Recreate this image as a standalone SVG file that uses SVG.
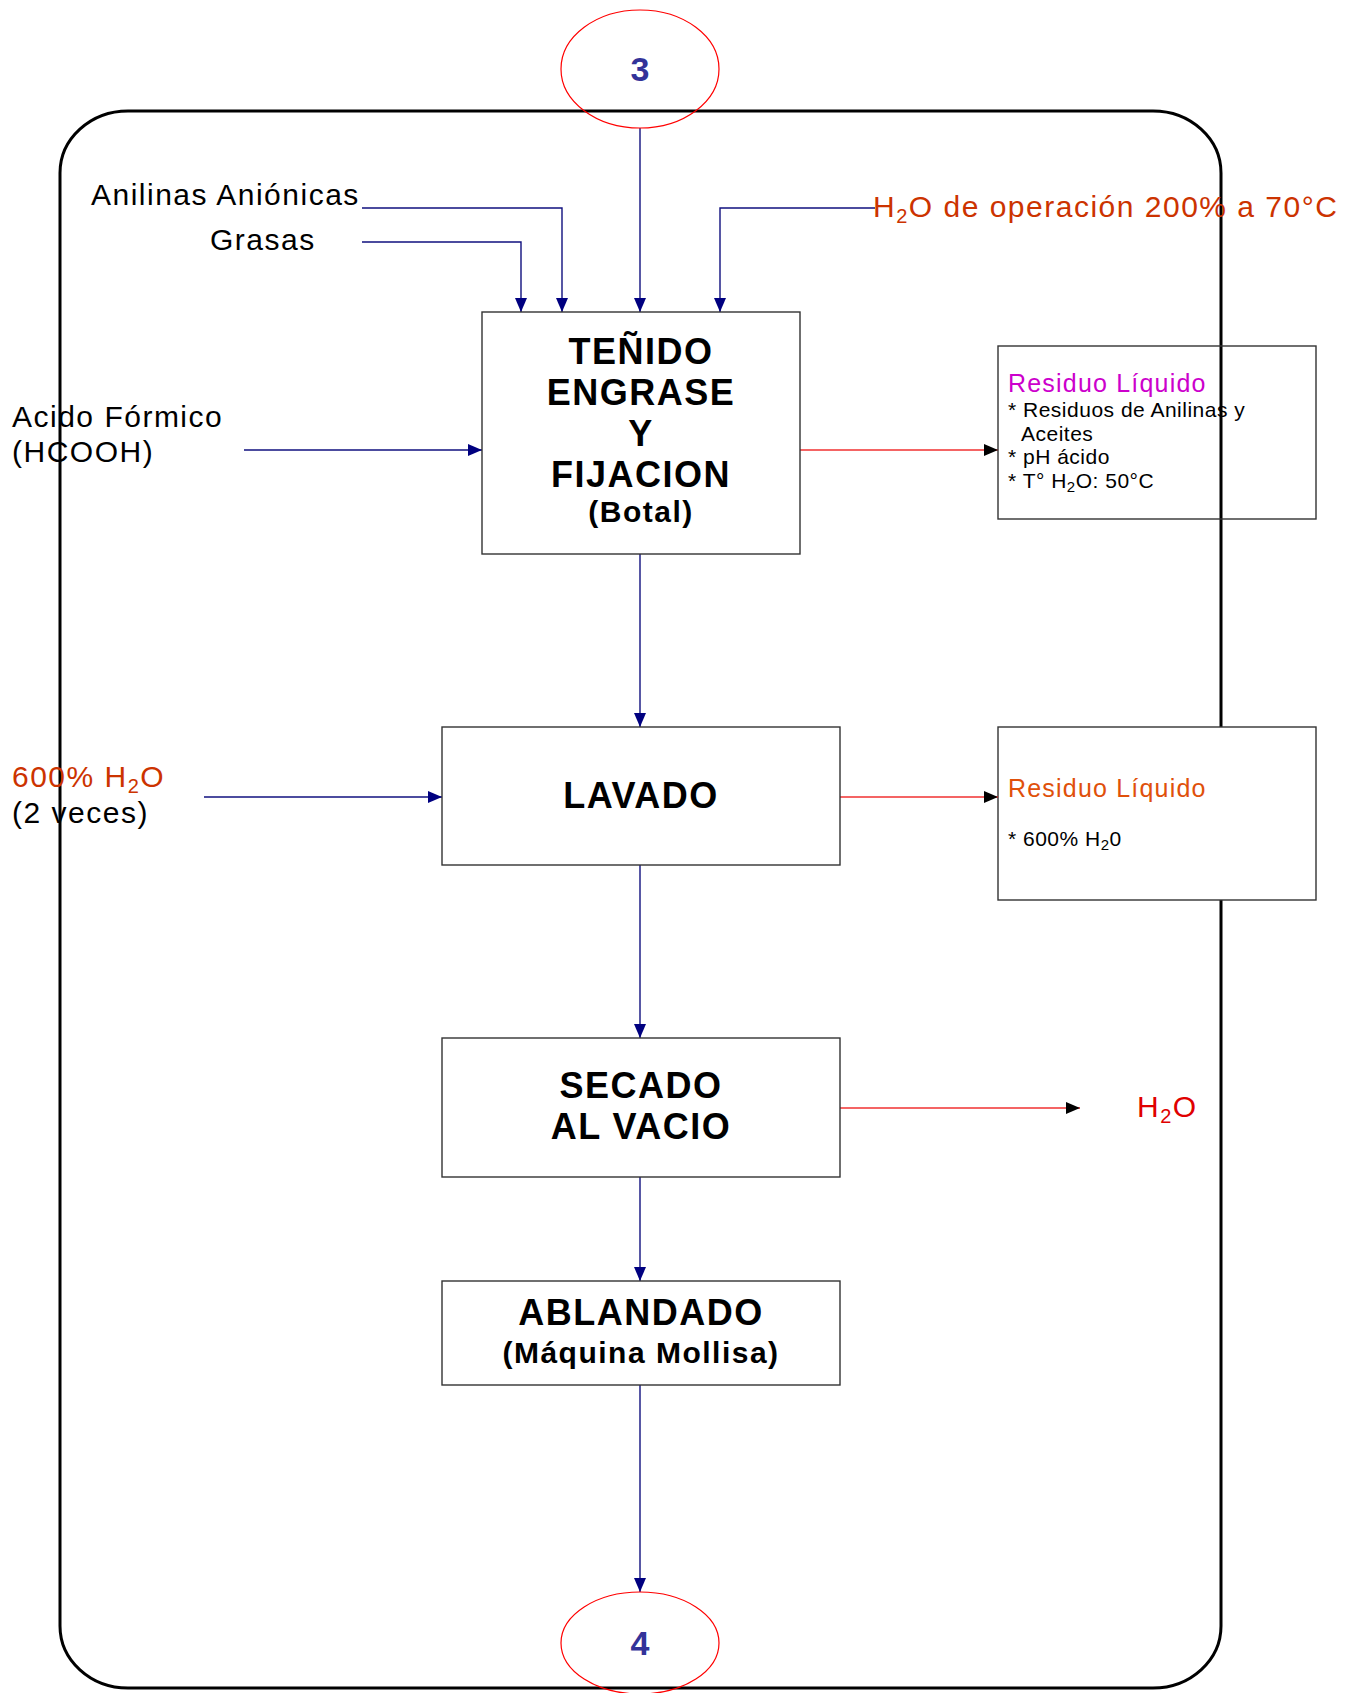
<svg xmlns="http://www.w3.org/2000/svg" width="1348" height="1693" viewBox="0 0 1348 1693">
<style>
  text { font-family: "Liberation Sans", Arial, sans-serif; }
  .lbl { font-size: 30px; letter-spacing: 1.5px; fill: #000; }
  .red { fill: #CC3300; }
  .ttl { font-size: 36px; font-weight: bold; letter-spacing: 1.5px; text-anchor: middle; fill: #000; }
  .sub { font-size: 30px; font-weight: bold; letter-spacing: 1.5px; text-anchor: middle; fill: #000; }
  .res { font-size: 25px; letter-spacing: 1.2px; }
  .sm { font-size: 21px; letter-spacing: 0.5px; fill: #000; }
  .num { font-size: 34px; font-weight: bold; fill: #333399; text-anchor: middle; }
  .box { fill: #fff; stroke: #333; stroke-width: 1.4; }
  .blue { fill: none; stroke: #10107f; stroke-width: 1.4; }
  .rline { fill: none; stroke: #f03030; stroke-width: 1.4; }
  .conn { fill: none; stroke: #ff0000; stroke-width: 1.2; }
</style>
<defs>
  <marker id="an" viewBox="0 0 14 12" refX="14" refY="6" markerWidth="14" markerHeight="12" markerUnits="userSpaceOnUse" orient="auto">
    <path d="M0,0 L14,6 L0,12 z" fill="#000080"/>
  </marker>
  <marker id="ak" viewBox="0 0 14 12" refX="14" refY="6" markerWidth="14" markerHeight="12" markerUnits="userSpaceOnUse" orient="auto">
    <path d="M0,0 L14,6 L0,12 z" fill="#000"/>
  </marker>
</defs>
<rect width="1348" height="1693" fill="#fff"/>

<g id="outer-frame">
  <rect x="60" y="111" width="1161" height="1577" rx="68" ry="62" fill="none" stroke="#000" stroke-width="3"/>
</g>

<g id="residuo2">
  <rect class="box" x="998" y="727" width="318" height="173"/>
  <text class="res" x="1008" y="797" fill="#E0500A">Residuo Líquido</text>
  <text class="sm" x="1008" y="846">* 600% H<tspan font-size="15" dy="4">2</tspan><tspan dy="-4">0</tspan></text>
</g>

<g id="connectors">
  <path class="blue" d="M362,208 H562 V312" marker-end="url(#an)"/>
  <path class="blue" d="M362,242 H521 V312" marker-end="url(#an)"/>
  <path class="blue" d="M640,128 V312" marker-end="url(#an)"/>
  <path class="blue" d="M875,208 H720 V312" marker-end="url(#an)"/>
  <path class="blue" d="M244,450 H482" marker-end="url(#an)"/>
  <path class="rline" d="M800,450 H998" marker-end="url(#ak)"/>
  <path class="blue" d="M640,554 V727" marker-end="url(#an)"/>
  <path class="blue" d="M204,797 H442" marker-end="url(#an)"/>
  <path class="rline" d="M840,797 H998" marker-end="url(#ak)"/>
  <path class="blue" d="M640,865 V1038" marker-end="url(#an)"/>
  <path class="rline" d="M840,1108 H1080" marker-end="url(#ak)"/>
  <path class="blue" d="M640,1177 V1281" marker-end="url(#an)"/>
  <path class="blue" d="M640,1385 V1592" marker-end="url(#an)"/>
</g>

<g id="conn3">
  <ellipse class="conn" cx="640" cy="69" rx="79" ry="59"/>
  <text class="num" x="640" y="81">3</text>
</g>
<g id="conn4">
  <ellipse class="conn" cx="640" cy="1643" rx="79" ry="51"/>
  <text class="num" x="640" y="1655">4</text>
</g>

<g id="input-anilinas">
  <text class="lbl" x="91" y="205">Anilinas Aniónicas</text>
</g>
<g id="input-grasas">
  <text class="lbl" x="210" y="250">Grasas</text>
</g>
<g id="input-h2o">
  <text class="lbl red" x="873" y="217" style="letter-spacing:1.5px">H<tspan font-size="20" dy="6">2</tspan><tspan dy="-6">O de operación 200% a 70°C</tspan></text>
</g>
<g id="input-acido">
  <text class="lbl" x="12" y="427">Acido Fórmico</text>
  <text class="lbl" x="12" y="462">(HCOOH)</text>
</g>
<g id="input-agua">
  <text class="lbl red" x="12" y="787">600% H<tspan font-size="20" dy="6">2</tspan><tspan dy="-6">O</tspan></text>
  <text class="lbl" x="12" y="823">(2 veces)</text>
</g>

<g id="tenido">
  <rect class="box" x="482" y="312" width="318" height="242"/>
  <text class="ttl" x="641" y="364">TEÑIDO</text>
  <text class="ttl" x="641" y="405">ENGRASE</text>
  <text class="ttl" x="641" y="446">Y</text>
  <text class="ttl" x="641" y="487">FIJACION</text>
  <text class="sub" x="641" y="522">(Botal)</text>
</g>

<g id="residuo1">
  <rect x="998" y="346" width="318" height="173" fill="none" stroke="#333" stroke-width="1.4"/>
  <text class="res" x="1008" y="392" fill="#CC00CC">Residuo Líquido</text>
  <text class="sm" x="1008" y="417">* Residuos de Anilinas y</text>
  <text class="sm" x="1021" y="441">Aceites</text>
  <text class="sm" x="1008" y="464">* pH ácido</text>
  <text class="sm" x="1008" y="488">* T° H<tspan font-size="15" dy="4">2</tspan><tspan dy="-4">O: 50°C</tspan></text>
</g>

<g id="lavado">
  <rect class="box" x="442" y="727" width="398" height="138"/>
  <text class="ttl" x="641" y="808">LAVADO</text>
</g>

<g id="secado">
  <rect class="box" x="442" y="1038" width="398" height="139"/>
  <text class="ttl" x="641" y="1098">SECADO</text>
  <text class="ttl" x="641" y="1139">AL VACIO</text>
</g>
<g id="output-h2o">
  <text class="lbl" x="1137" y="1117" style="fill:#E00000">H<tspan font-size="20" dy="6">2</tspan><tspan dy="-6">O</tspan></text>
</g>

<g id="ablandado">
  <rect class="box" x="442" y="1281" width="398" height="104"/>
  <text class="ttl" x="641" y="1325">ABLANDADO</text>
  <text class="sub" x="641" y="1363">(Máquina Mollisa)</text>
</g>
</svg>
